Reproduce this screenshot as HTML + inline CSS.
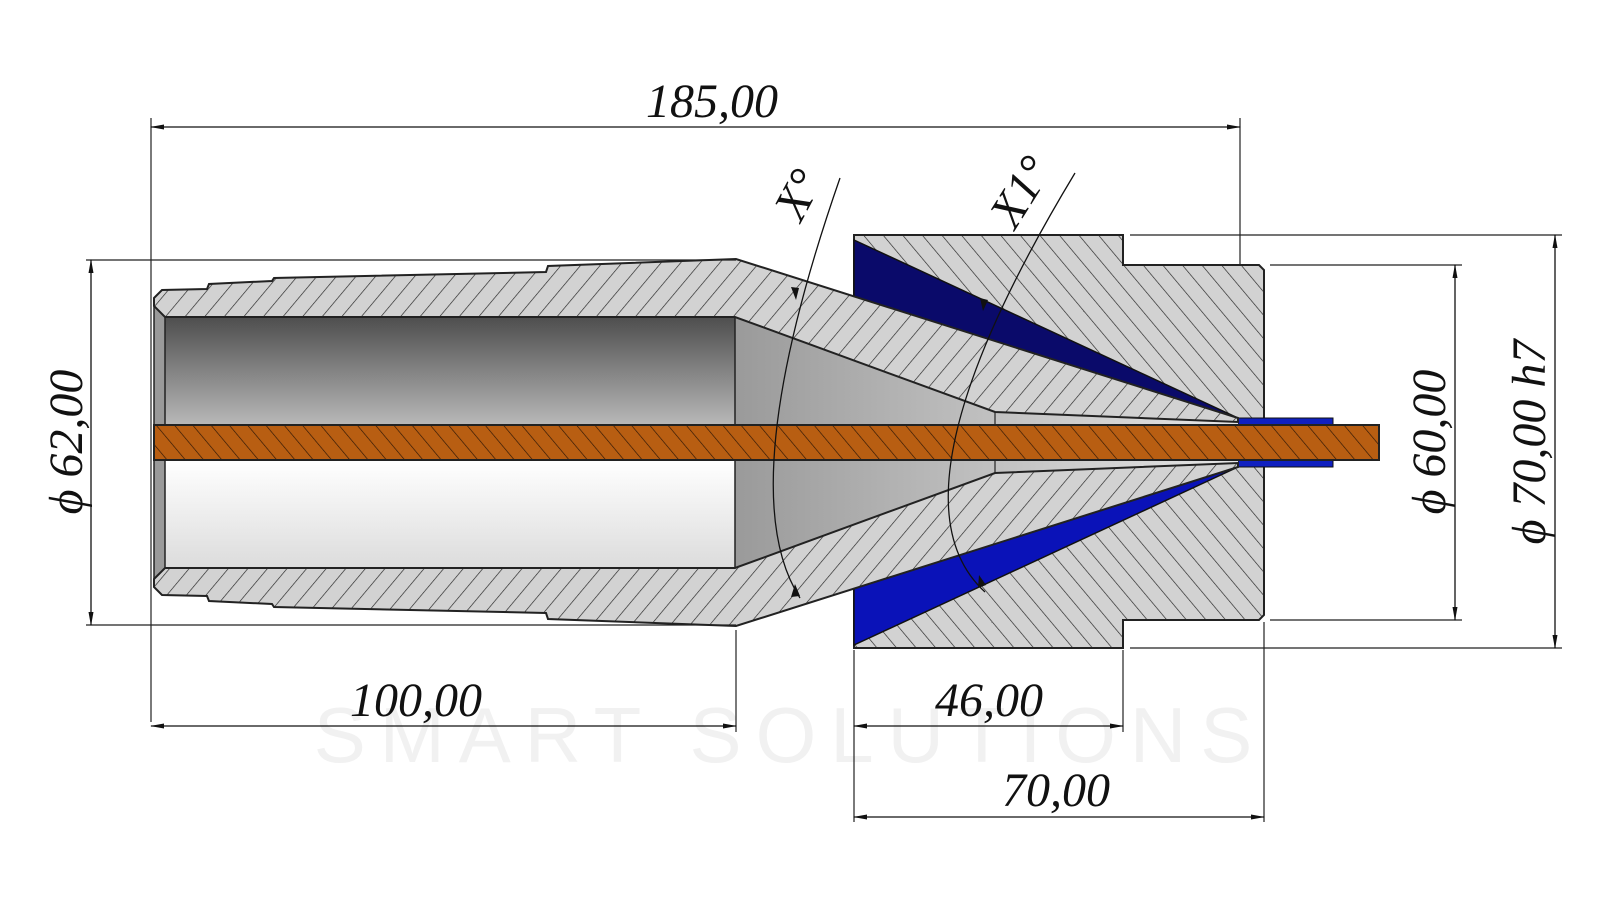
<!DOCTYPE html>
<html><head><meta charset="utf-8"><style>
html,body{margin:0;padding:0;background:#fff;}
svg{display:block}
text{font-family:"Liberation Serif",serif;font-style:italic;fill:#111}
</style></head><body>
<svg width="1600" height="900" viewBox="0 0 1600 900" xmlns="http://www.w3.org/2000/svg">
<defs>
<pattern id="hs" patternUnits="userSpaceOnUse" width="15" height="15" patternTransform="rotate(40)">
<rect width="15" height="15" fill="#d2d2d2"/><line x1="0" y1="0" x2="0" y2="15" stroke="#222" stroke-width="1.3"/></pattern>
<pattern id="hb" patternUnits="userSpaceOnUse" width="15" height="15" patternTransform="rotate(-40)">
<rect width="15" height="15" fill="#d2d2d2"/><line x1="0" y1="0" x2="0" y2="15" stroke="#222" stroke-width="1.3"/></pattern>
<pattern id="ho" patternUnits="userSpaceOnUse" width="14" height="14" patternTransform="rotate(-40)">
<rect width="14" height="14" fill="#b85e12"/><line x1="0" y1="0" x2="0" y2="14" stroke="#2a1505" stroke-width="1.3"/></pattern>
<linearGradient id="gd" x1="0" y1="0" x2="0" y2="1"><stop offset="0" stop-color="#4e4e4e"/><stop offset="1" stop-color="#b8b8b8"/></linearGradient>
<linearGradient id="gl" x1="0" y1="0" x2="0" y2="1"><stop offset="0" stop-color="#ffffff"/><stop offset="1" stop-color="#dcdcdc"/></linearGradient>
<linearGradient id="gc" x1="0" y1="0" x2="1" y2="0"><stop offset="0" stop-color="#9a9a9a"/><stop offset="1" stop-color="#e6e6e6"/></linearGradient>
<marker id="ar" markerWidth="14" markerHeight="8" refX="13" refY="4" orient="auto-start-reverse" markerUnits="userSpaceOnUse"><path d="M0,1.5 L14,4 L0,6.5Z" fill="#111"/></marker>
</defs>

<!-- watermark -->
<text x="790" y="762" text-anchor="middle" style="font-family:'Liberation Sans',sans-serif;font-style:normal;font-size:78px;letter-spacing:14px;fill:#f1f1f1">SMART SOLUTIONS</text>

<!-- nozzle body -->
<path d="M854,235 L1123,235 L1123,265 L1259,265 L1264,270 L1264,615 L1259,620 L1123,620 L1123,648 L854,648 Z" fill="url(#hb)" stroke="#222" stroke-width="2"/>
<path d="M854,240 L1238,418 L854,298 Z" fill="#0a0a6a" stroke="#111" stroke-width="1.5"/>
<path d="M854,645 L1238,467 L854,587 Z" fill="#0a12b8" stroke="#111" stroke-width="1.5"/>
<rect x="1238" y="418" width="95" height="7" fill="#1020c0" stroke="#111" stroke-width="1"/>
<rect x="1238" y="460" width="95" height="7" fill="#1020c0" stroke="#111" stroke-width="1"/>

<rect x="154" y="317" width="582" height="108" fill="url(#gd)"/>
<rect x="154" y="460" width="582" height="108" fill="url(#gl)"/>
<path d="M735,317 L995,412 L1238,420 L1238,442 L735,442 Z" fill="url(#gc)"/>
<path d="M735,568 L995,473 L1238,465 L1238,443 L735,443 Z" fill="url(#gc)"/>
<rect x="154" y="306" width="11" height="273" fill="#9a9a9a" stroke="#222" stroke-width="1.5"/>
<line x1="735" y1="317" x2="735" y2="568" stroke="#222" stroke-width="1.5"/>
<line x1="995" y1="412" x2="995" y2="473" stroke="#222" stroke-width="1.2"/>

<path d="M154,298 L162,290 L207,289 L209,284 L272,281 L274,278 L546,272 L548,266 L736,259 L1238,418 L1238,422 L995,412 L735,317 L165,317 L154,306 Z" fill="url(#hs)" stroke="#222" stroke-width="2"/>
<path d="M154,587 L162,595 L207,596 L209,601 L272,604 L274,607 L546,613 L548,619 L736,626 L1238,467 L1238,463 L995,473 L735,568 L165,568 L154,579 Z" fill="url(#hs)" stroke="#222" stroke-width="2"/>

<rect x="154" y="425" width="1225" height="35" fill="url(#ho)" stroke="#222" stroke-width="2"/>

<g stroke="#222" stroke-width="1.2" fill="none">
<line x1="151" y1="118" x2="151" y2="722"/>
<line x1="1240" y1="118" x2="1240" y2="265"/>
<line x1="86" y1="260" x2="736" y2="260"/>
<line x1="86" y1="625" x2="736" y2="625"/>
<line x1="736" y1="630" x2="736" y2="732"/>
<line x1="854" y1="650" x2="854" y2="822"/>
<line x1="1123" y1="650" x2="1123" y2="732"/>
<line x1="1264" y1="622" x2="1264" y2="822"/>
<line x1="1130" y1="235" x2="1562" y2="235"/>
<line x1="1270" y1="265" x2="1462" y2="265"/>
<line x1="1270" y1="620" x2="1462" y2="620"/>
<line x1="1130" y1="648" x2="1562" y2="648"/>
<path d="M840,178 Q731,491 800,598" stroke="#111" stroke-width="1.3"/>
<path d="M1075,173 Q880,496 985,592" stroke="#111" stroke-width="1.3"/>
</g>
<g stroke="#111" stroke-width="1.3" fill="none" marker-start="url(#ar)" marker-end="url(#ar)">
<line x1="151" y1="127" x2="1240" y2="127"/>
<line x1="91" y1="260" x2="91" y2="625"/>
<line x1="151" y1="726" x2="736" y2="726"/>
<line x1="854" y1="726" x2="1123" y2="726"/>
<line x1="854" y1="817" x2="1264" y2="817"/>
<line x1="1455" y1="265" x2="1455" y2="620"/>
<line x1="1555" y1="235" x2="1555" y2="648"/>
</g>
<g fill="#111">
<path d="M796,300 l-5,-13 l8,1z"/>
<path d="M795,584 l-4,13 l9,-1z"/>
<path d="M983,311 l-3,-13 l8,2z"/>
<path d="M979,575 l-1,13 l8,-3z"/>
</g>

<g font-size="48">
<text x="712" y="117" text-anchor="middle">185,00</text>
<text x="416" y="716" text-anchor="middle">100,00</text>
<text x="989" y="716" text-anchor="middle">46,00</text>
<text x="1056" y="806" text-anchor="middle">70,00</text>
<text transform="translate(82,442) rotate(-90)" text-anchor="middle">ϕ 62,00</text>
<text transform="translate(1445,442) rotate(-90)" text-anchor="middle">ϕ 60,00</text>
<text transform="translate(1545,442) rotate(-90)" text-anchor="middle">ϕ 70,00 h7</text>
<text transform="translate(812,202) rotate(-62)" text-anchor="middle">X°</text>
<text transform="translate(1034,200) rotate(-58)" text-anchor="middle">X1°</text>
</g>
</svg>
</body></html>
